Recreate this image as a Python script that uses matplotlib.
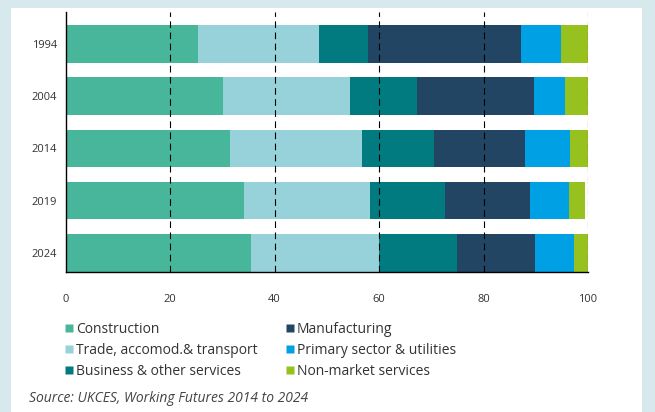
import matplotlib.pyplot as plt
import numpy as np
from matplotlib.lines import Line2D
from matplotlib.patches import Rectangle

plt.rcParams["font.family"] = ["Open Sans", "DejaVu Sans"]

# shares of employment by sector (%)
years = ["1994", "2004", "2014", "2019", "2024"]
sectors = ["Construction", "Trade, accomod.& transport", "Business & other services",
           "Manufacturing", "Primary sector & utilities", "Non-market services"]
construction = [25.3, 30.1, 31.5, 34.1, 35.5]
trade = [23.2, 24.3, 25.3, 24.2, 24.5]
business = [9.4, 12.8, 13.7, 14.3, 14.9]
manufacturing = [29.2, 22.4, 17.4, 16.3, 14.9]
primary = [7.7, 6.0, 8.7, 7.4, 7.5]
non_market = [5.2, 4.4, 3.4, 3.1, 2.7]
x_ticks = [0, 20, 40, 60, 80, 100]

colors = ["#47b69b", "#97d2da", "#017b80", "#224563", "#00a1e4", "#96c11f"]

fig = plt.figure(figsize=(6.55, 4.12), dpi=100)
fig.patch.set_facecolor("#d7e9ec")
# white card behind the chart
fig.patches.append(Rectangle((11 / 655, 0), (642 - 11) / 655, 1 - 8 / 412,
                             transform=fig.transFigure, facecolor="white",
                             edgecolor="none", zorder=-5))

ax = fig.add_axes([65.6 / 655, 1 - 271.7 / 412, (588 - 65.6) / 655, (271.7 - 12) / 412])
ax.set_facecolor("none")

series = [construction, trade, business, manufacturing, primary, non_market]
ypos = np.arange(len(years))
left = np.zeros(len(years))
for vals, name, c in zip(series, sectors, colors):
    ax.barh(ypos, vals, left=left, height=0.72, color=c, label=name, zorder=2)
    left += np.array(vals)

ax.set_xlim(0, 100)
ax.set_ylim(4.36, -0.61)
ax.set_yticks(ypos)
ax.set_yticklabels(years)
ax.set_xticks(x_ticks)
ax.set_xticklabels([str(t) for t in x_ticks])

for t in x_ticks[1:]:
    ax.axvline(t, color="black", lw=0.8, linestyle=(0, (6, 4)), zorder=3)

for s in ["top", "right"]:
    ax.spines[s].set_visible(False)
for s in ["left", "bottom"]:
    ax.spines[s].set_color("black")
    ax.spines[s].set_linewidth(1.0)
    ax.spines[s].set_zorder(4)

ax.tick_params(axis="y", direction="in", length=9.5, width=1.0, pad=6,
               labelsize=8, labelcolor="#333333", color="black")
ax.tick_params(axis="x", length=0, pad=16, labelsize=8, labelcolor="#333333")

handles = [Line2D([], [], marker="s", linestyle="none", markersize=5.5,
                  markerfacecolor=c, markeredgecolor="none") for c in colors]
fig.legend(handles, sectors, loc="upper left", ncol=2, frameon=False,
           bbox_to_anchor=(58 / 655, 1 - 315 / 412), borderpad=0,
           handlelength=0.6, handletextpad=0.2, columnspacing=2.0,
           labelspacing=0.42, prop={"size": 10}, labelcolor="#333333")

fig.text(29 / 655, 1 - 399 / 412, "Source: UKCES, Working Futures 2014 to 2024",
         fontsize=10, style="italic", color="#444444", va="center", ha="left")

fig.savefig("out.png", dpi=100, facecolor=fig.get_facecolor())
